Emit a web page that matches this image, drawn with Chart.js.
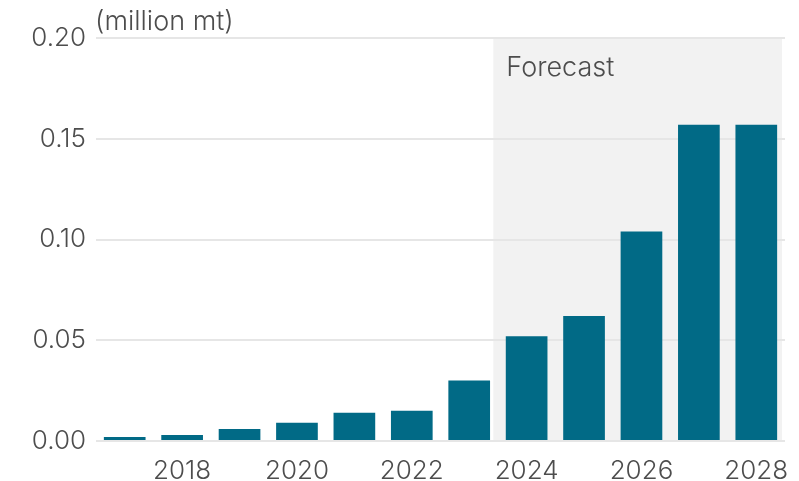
<!DOCTYPE html>
<html>
<head>
<meta charset="utf-8">
<script src="https://cdn.jsdelivr.net/npm/chart.js@4/dist/chart.umd.min.js"></script>
<style>
  html, body { margin: 0; padding: 0; background: #ffffff; }
  #wrap { position: relative; width: 799px; height: 481px; }
</style>
</head>
<body>
<div id="wrap"><canvas id="c"></canvas></div>
<script>
const years = ["2017","2018","2019","2020","2021","2022","2023","2024","2025","2026","2027","2028"];
const volumes = [0.002, 0.003, 0.006, 0.009, 0.014, 0.015, 0.030, 0.052, 0.062, 0.104, 0.157, 0.157];
const yTicks = [0.00, 0.05, 0.10, 0.15, 0.20];
const unitLabel = "(million mt)";
const forecastLabel = "Forecast";
const forecastStart = 6.42; // category position where forecast shading begins

const FONT = "Inter, 'Noto Sans', sans-serif";
const TEXT = "#4d4d4d";

const overlay = {
  id: 'overlay',
  beforeDraw(chart) {
    const {ctx, chartArea, scales} = chart;
    const x0 = scales.x.getPixelForValue(forecastStart);
    ctx.save();
    ctx.fillStyle = "#f2f2f2";
    ctx.fillRect(x0, chartArea.top, chartArea.right - 3 - x0, chartArea.bottom - chartArea.top);
    ctx.restore();
  },
  afterDraw(chart) {
    const {ctx, chartArea, scales} = chart;
    const x0 = scales.x.getPixelForValue(forecastStart);
    ctx.save();
    ctx.fillStyle = TEXT;
    ctx.font = "300 27px " + FONT;
    ctx.textBaseline = "middle";
    ctx.textAlign = "left";
    ctx.fillText(forecastLabel, x0 + 13, chartArea.top + 30);
    ctx.font = "300 27px " + FONT;
    ctx.fillText(unitLabel, chartArea.left - 1, chartArea.top - 16);
    ctx.restore();
  }
};

new Chart(document.getElementById('c'), {
  type: 'bar',
  data: {
    labels: years,
    datasets: [{
      data: volumes,
      backgroundColor: "#016a86",
      borderWidth: 0,
      categoryPercentage: 1.0,
      barPercentage: 0.726
    }]
  },
  options: {
    responsive: true,
    maintainAspectRatio: false,
    animation: false,
    devicePixelRatio: 1,
    layout: { padding: { top: 38, right: 14, left: 0, bottom: 0 } },
    plugins: { legend: { display: false }, tooltip: { enabled: false } },
    scales: {
      x: {
        grid: { display: false },
        border: { display: false },
        ticks: {
          autoSkip: false,
          maxRotation: 0,
          padding: 7,
          color: TEXT,
          font: { family: FONT, size: 26, weight: 300 },
          callback: function(v, i) { return i % 2 === 1 ? years[i] : ""; }
        },
        afterFit(s) { s.height = 40; }
      },
      y: {
        min: 0,
        max: 0.20,
        afterBuildTicks(s) { s.ticks = yTicks.map(v => ({ value: v })); },
        grid: { color: "#e6e6e6", lineWidth: 2, drawTicks: false },
        border: { display: false },
        ticks: {
          padding: 10,
          color: TEXT,
          font: { family: FONT, size: 26, weight: 300 },
          callback: v => Number(v).toFixed(2)
        },
        afterFit(s) { s.width = 96; }
      }
    }
  },
  plugins: [overlay]
});
</script>
</body>
</html>
